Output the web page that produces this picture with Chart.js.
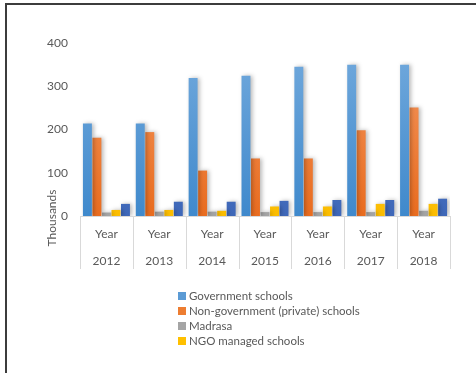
<!DOCTYPE html>
<html lang="en">
<head>
    <meta charset="UTF-8">
    <title>Schools by Type, 2012-2018</title>
    <script src="https://cdn.jsdelivr.net/npm/chart.js@4.4.1/dist/chart.umd.min.js"></script>
    <style>
        body {
            margin: 0;
            padding: 0;
            background-color: #ffffff;
            font-family: Lato, "Open Sans", Arial, sans-serif;
        }

        .frame {
            position: absolute;
            left: 5px;
            top: 3px;
            width: 480px;
            height: 380px;
            border-top: 2px solid #3c3c3c;
            border-left: 2px solid #3c3c3c;
        }

        .chart-box {
            position: absolute;
            left: 0;
            top: 0;
            width: 476px;
            height: 373px;
        }

        #legend {
            position: absolute;
            left: 178px;
            top: 288px;
            margin: 0;
            padding: 0;
            list-style: none;
            font-size: 11.5px;
            color: #595959;
        }

        #legend li {
            display: flex;
            align-items: center;
            height: 15px;
        }

        #legend .swatch {
            width: 8px;
            height: 8px;
            margin-right: 3px;
        }
    </style>
</head>
<body>
    <div class="frame"></div>
    <div class="chart-box">
        <canvas id="schools-chart" width="476" height="373"></canvas>
    </div>
    <ul id="legend"></ul>

    <script>
        // Number of schools (thousands) per year
        const years = ['2012', '2013', '2014', '2015', '2016', '2017', '2018'];
        const governmentSchools = [214, 214, 319, 324, 345, 350, 350];
        const privateSchools = [181, 194, 105, 133, 133, 198, 251];
        const madrasa = [8, 10, 10, 9, 9, 9, 12];
        const ngoSchools = [14, 14, 12, 22, 22, 28, 28];
        const otherSchools = [28, 33, 33, 35, 37, 37, 40];
        const yTicks = [0, 100, 200, 300, 400];

        const textColor = '#595959';
        const fontFamily = 'Lato, "Open Sans", Arial, sans-serif';

        // vertical gradient for each series, lighter at the top
        function shade(top, bottom) {
            return function(context) {
                const area = context.chart.chartArea;
                if (!area) return bottom;
                const g = context.chart.ctx.createLinearGradient(0, area.top, 0, area.bottom);
                g.addColorStop(0, top);
                g.addColorStop(1, bottom);
                return g;
            };
        }

        const series = [
            { label: 'Government schools', data: governmentSchools, base: '#5b9bd5', top: '#73aadd', bottom: '#3f89cc' },
            { label: 'Non-government (private) schools', data: privateSchools, base: '#ed7d31', top: '#f49a63', bottom: '#e96c1f' },
            { label: 'Madrasa', data: madrasa, base: '#a5a5a5', top: '#b8b8b8', bottom: '#a3a3a3' },
            { label: 'NGO managed schools', data: ngoSchools, base: '#ffc000', top: '#ffd040', bottom: '#fcbd00' },
            { label: '', data: otherSchools, base: '#4472c4', top: '#5a86d2', bottom: '#3e67b8', hidden: true }
        ];

        // soft shadow to the right of the bars
        const barShadow = {
            id: 'barShadow',
            beforeDatasetsDraw(chart) {
                const ctx = chart.ctx;
                ctx.save();
                ctx.shadowColor = 'rgba(0, 0, 0, 0.28)';
                ctx.shadowBlur = 4;
                ctx.shadowOffsetX = 2;
                ctx.shadowOffsetY = 0;
            },
            afterDatasetsDraw(chart) {
                chart.ctx.restore();
            }
        };

        // separators between the year labels, below the baseline
        const categoryDividers = {
            id: 'categoryDividers',
            afterDraw(chart) {
                const x = chart.scales.x;
                const ctx = chart.ctx;
                const half = (x.getPixelForValue(1) - x.getPixelForValue(0)) / 2;
                const top = chart.chartArea.bottom;
                ctx.save();
                ctx.strokeStyle = '#d9d9d9';
                ctx.lineWidth = 1;
                ctx.beginPath();
                for (let i = 0; i <= years.length; i++) {
                    const px = Math.round(x.getPixelForValue(i) - half) + 0.5;
                    ctx.moveTo(px, top);
                    ctx.lineTo(px, top + 53);
                }
                ctx.stroke();
                ctx.restore();
            }
        };

        // display-unit label next to the value axis
        const unitLabel = {
            id: 'unitLabel',
            afterDraw(chart) {
                const ctx = chart.ctx;
                ctx.save();
                ctx.translate(52, 218);
                ctx.rotate(-Math.PI / 2);
                ctx.font = '12px ' + fontFamily;
                ctx.fillStyle = textColor;
                ctx.textAlign = 'center';
                ctx.textBaseline = 'middle';
                ctx.fillText('Thousands', 0, 0);
                ctx.restore();
            }
        };

        const chart = new Chart(document.getElementById('schools-chart'), {
            type: 'bar',
            data: {
                labels: years.map(y => ['Year', y]),
                datasets: series.map(s => ({
                    label: s.label,
                    data: s.data,
                    backgroundColor: shade(s.top, s.bottom),
                    borderWidth: 0,
                    categoryPercentage: 0.9,
                    barPercentage: 0.94
                }))
            },
            options: {
                responsive: false,
                animation: false,
                layout: {
                    padding: { left: 10, right: 26, top: 43, bottom: 94 }
                },
                plugins: {
                    legend: { display: false },
                    tooltip: { enabled: false }
                },
                scales: {
                    x: {
                        offset: true,
                        grid: { display: false, drawTicks: false },
                        border: { display: true, color: '#d9d9d9', width: 1 },
                        ticks: {
                            color: textColor,
                            padding: 4.5,
                            maxRotation: 0,
                            autoSkip: false,
                            font: { family: fontFamily, size: 12, lineHeight: 2.25 }
                        }
                    },
                    y: {
                        min: 0,
                        max: 400,
                        afterFit(scale) { scale.width = 70; },
                        afterBuildTicks(scale) { scale.ticks = yTicks.map(v => ({ value: v })); },
                        grid: { display: false, drawTicks: false },
                        border: { display: false },
                        ticks: {
                            color: textColor,
                            padding: 12,
                            font: { family: fontFamily, size: 12 }
                        }
                    }
                }
            },
            plugins: [barShadow, categoryDividers, unitLabel]
        });

        // legend lists the named series only
        const legend = document.getElementById('legend');
        series.filter(s => !s.hidden).forEach(s => {
            const li = document.createElement('li');
            const box = document.createElement('span');
            box.className = 'swatch';
            box.style.backgroundColor = s.base;
            li.appendChild(box);
            li.appendChild(document.createTextNode(s.label));
            legend.appendChild(li);
        });
    </script>
</body>
</html>
